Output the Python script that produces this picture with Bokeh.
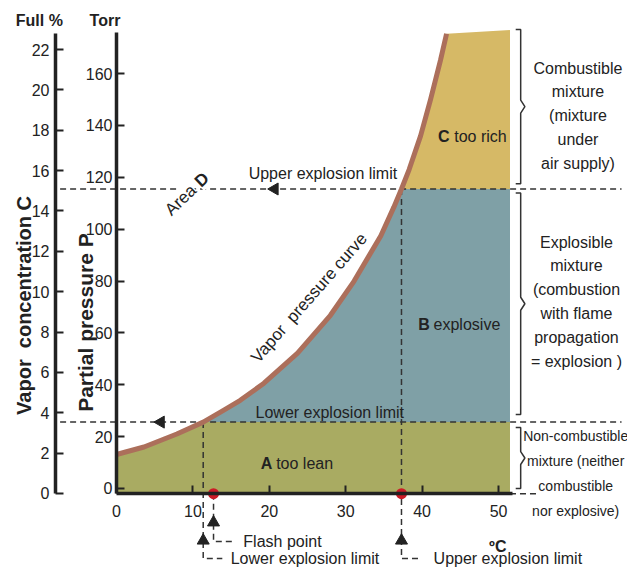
import numpy as np
from bokeh.plotting import figure
from bokeh.models import Range1d, LinearAxis, FixedTicker, Label
from bokeh.embed import file_html
from bokeh.resources import INLINE

# ---------------- data ----------------
curve_temp = [0, 3.6, 7.9, 11.35, 14.0, 16.2, 19.3, 23.7, 28.0, 31.1, 34.6, 36.3, 37.3, 38.3, 39.8, 41.1, 42.4, 43.2]
curve_torr = [13.1, 16.0, 21.0, 25.6, 30.1, 34.0, 40.6, 52.2, 66.8, 80.0, 97.5, 108.5, 115.5, 123.0, 136.0, 150.0, 165.1, 175.4]
lel_temp, lel_torr = 11.35, 25.6      # lower explosion limit
uel_temp, uel_torr = 37.3, 115.5      # upper explosion limit
flash_temp = 12.7                     # flash point
temp_max = 51.5                       # right end of the shaded zones
top_torr = 176.8                      # top of zone C at its right end
temp_ticks = [0, 10, 20, 30, 40, 50]
torr_ticks = [0, 20, 40, 60, 80, 100, 120, 140, 160]
pct_ticks = [0, 2, 4, 6, 8, 10, 12, 14, 16, 18, 20, 22]
brace_lo = [117.5, 28.5, 0.0]
brace_hi = [177.0, 114.0, 23.5]
brace_texts = ["Combustible\nmixture\n(mixture\nunder\nair supply)",
               "Explosible\nmixture\n(combustion\nwith flame\npropagation\n= explosion )",
               "Non-combustible\nmixture (neither\ncombustible\nnor explosive)"]

# ---------------- style ----------------
FONT = "Liberation Sans"
TXT = "#222222"
DASH = "6 4"
GREEN, TEAL, YELLOW = "#a9ab62", "#7fa0a6", "#d6b966"
CURVE = "#ac6f5b"
BASE = -2.0          # torr level of the temperature axis
PCT_X = -7.98        # x position of the Full % axis
NB = "\u00a0"

p = figure(width=627, height=567, output_backend="svg", toolbar_location=None,
           x_axis_type=None, y_axis_type=None, title=None,
           x_range=Range1d(-15.18, 66.88), y_range=Range1d(-30.47, 188.2),
           min_border=0, min_border_left=0, min_border_right=0,
           min_border_top=0, min_border_bottom=0)
p.extra_y_ranges = {"pct": Range1d(-3.667, 24.43)}
p.outline_line_color = None
p.grid.visible = False
p.background_fill_color = "white"
p.border_fill_color = "white"

# ---------------- zones ----------------
ct = np.array(curve_temp)
cp = np.array(curve_torr)
m1 = ct <= lel_temp
m2 = (ct >= lel_temp) & (ct <= uel_temp)
m3 = ct >= uel_temp
green_x = list(ct[m1]) + [temp_max, temp_max, 0]
green_y = list(cp[m1]) + [lel_torr, BASE, BASE]
teal_x = list(ct[m2]) + [temp_max, temp_max]
teal_y = list(cp[m2]) + [uel_torr, lel_torr]
yel_x = list(ct[m3]) + [temp_max, temp_max]
yel_y = list(cp[m3]) + [top_torr, uel_torr]
p.patches([green_x, teal_x, yel_x], [green_y, teal_y, yel_y],
          fill_color=[GREEN, TEAL, YELLOW], line_color=None)

# ---------------- dashed guide lines ----------------
x_right = 66.1
flash_row = -20.4
low_row = -27.0
conn = 2.5
p.multi_line(
    [[PCT_X + 0.6, x_right], [PCT_X + 0.6, x_right], [temp_max, 55.0],
     [lel_temp, lel_temp, lel_temp + conn],
     [uel_temp, uel_temp, uel_temp + conn],
     [flash_temp, flash_temp, flash_temp + conn]],
    [[lel_torr, lel_torr], [uel_torr, uel_torr], [BASE, BASE],
     [lel_torr, low_row, low_row],
     [uel_torr, low_row, low_row],
     [BASE, flash_row, flash_row]],
    line_color="#333333", line_width=1.5, line_dash=DASH)

# ---------------- vapor pressure curve ----------------
p.line(curve_temp, curve_torr, line_color=CURVE, line_width=5, line_join="round")

# ---------------- braces ----------------
bx = 52.9
bxs, bys = [], []
for lo, hi in zip(brace_lo, brace_hi):
    mid = (lo + hi) / 2
    bxs.append([bx - 0.65, bx, bx, bx + 0.55, bx, bx, bx - 0.65])
    bys.append([hi, hi, mid + 2.5, mid, mid - 2.5, lo, lo])
p.multi_line(bxs, bys, line_color="#333333", line_width=1.5)

# ---------------- arrow heads and points ----------------
p.scatter([5.8, 20.7], [lel_torr, uel_torr], marker="triangle", angle=np.pi / 2,
          size=12, color="#222222")
p.scatter([flash_temp, lel_temp, uel_temp], [-13.1, -20.1, -20.1], marker="triangle",
          size=12, color="#222222")
p.scatter([flash_temp, uel_temp], [BASE, BASE], size=11, color="#cc1a26", line_color=None)

# ---------------- axes ----------------
def style_axis(ax):
    ax.axis_line_width = 3.5
    ax.axis_line_color = "#222222"
    ax.major_tick_in = 8
    ax.major_tick_out = 0
    ax.major_tick_line_width = 2
    ax.major_tick_line_color = "#222222"
    ax.minor_tick_line_color = None
    ax.major_label_text_font = FONT
    ax.major_label_text_font_size = "16px"
    ax.major_label_text_color = TXT

pct_axis = LinearAxis(y_range_name="pct", fixed_location=PCT_X, bounds=(0, 22.8),
                      ticker=FixedTicker(ticks=pct_ticks))
style_axis(pct_axis)
pct_axis.major_label_standoff = 6
torr_axis = LinearAxis(fixed_location=0, bounds=(BASE, 176),
                       ticker=FixedTicker(ticks=torr_ticks))
style_axis(torr_axis)
torr_axis.major_label_standoff = 4
x_axis = LinearAxis(fixed_location=BASE, bounds=(0, 51.8),
                    ticker=FixedTicker(ticks=temp_ticks))
style_axis(x_axis)
x_axis.major_label_standoff = 11
p.add_layout(pct_axis, "left")
p.add_layout(torr_axis, "left")
p.add_layout(x_axis, "below")

# ---------------- texts ----------------
def lab(x, y, text, size="16px", bold=False, align="left", baseline="middle",
        angle=0.0, bg=None, lh=1.2):
    l = Label(x=x, y=y, text=text, text_font=FONT, text_font_size=size,
              text_font_style="bold" if bold else "normal", text_color=TXT,
              text_align=align, text_baseline=baseline, angle=angle,
              text_line_height=lh)
    if bg is not None:
        l.background_fill_color = bg
    p.add_layout(l)

lab(-10.1, 180.5, "Full %", bold=True, align="center")
lab(-1.5, 180.5, "Torr", bold=True, align="center")
lab(-12.1, 70.6, "Vapor" + NB + NB + "concentration C", size="20px", bold=True,
    align="center", angle=np.pi / 2)
lab(-4.0, 64.0, "Partial pressure P", size="21px", bold=True, align="center", angle=np.pi / 2)

lab(20.4, 9.6, "A", bold=True, align="right")
lab(20.9, 9.6, "too lean")
lab(41.0, 63.2, "B", bold=True, align="right")
lab(41.5, 63.2, "explosive")
lab(43.6, 135.7, "C", bold=True, align="right")
lab(44.2, 135.7, "too rich")
lab(17.3, 121.5, "Upper explosion limit")
lab(18.2, 29.4, "Lower explosion limit")
lab(25.2, 73.5, "Vapor" + NB + NB + "pressure curve", size="17px", align="center", angle=0.85)
lab(10.1, 116.0, "Area", size="17px", align="right", baseline="alphabetic", angle=0.76, bg="white")
lab(10.6, 117.4, "D", size="17px", bold=True, align="left", baseline="alphabetic", angle=0.76, bg="white")

lab(49.9, -22.4, "ºC", bold=True, align="center")
lab(flash_temp + 3.9, flash_row, "Flash point")
lab(lel_temp + 3.6, low_row, "Lower explosion limit")
lab(uel_temp + 4.2, low_row, "Upper explosion limit")

lab(60.4, 143.8, brace_texts[0], align="center", lh=1.4)
lab(60.2, 72.1, brace_texts[1], align="center", lh=1.4)
lab(60.1, 5.8, brace_texts[2], size="14px", align="center", lh=1.55)

open("out.html", "w").write(file_html(p, INLINE))
